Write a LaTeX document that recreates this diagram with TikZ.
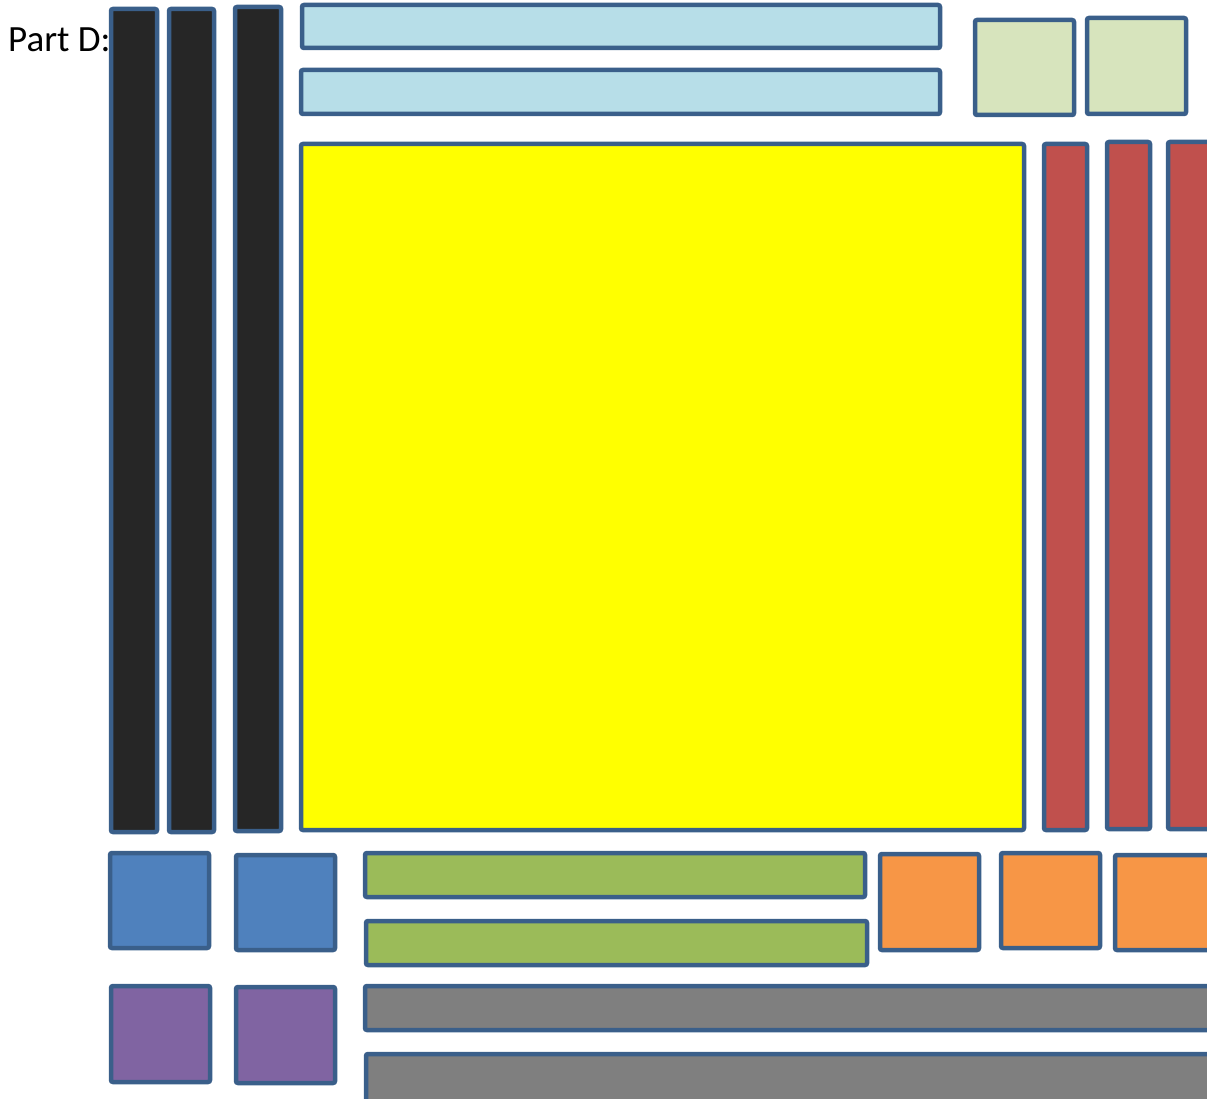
\documentclass[tikz,border=0pt]{standalone}
\usepackage{fontspec}
\setmainfont{Carlito}
\usepackage{xcolor}
\usepackage{tikz}
\usetikzlibrary{positioning,calc}

\definecolor{edgeblue}{RGB}{58,95,138}
\definecolor{tileblack}{RGB}{38,38,38}
\definecolor{tilesky}{RGB}{183,222,232}
\definecolor{tilesage}{RGB}{215,228,189}
\definecolor{tileyellow}{RGB}{255,255,0}
\definecolor{tilered}{RGB}{192,80,77}
\definecolor{tileblue}{RGB}{79,129,189}
\definecolor{tilegreen}{RGB}{155,187,89}
\definecolor{tileorange}{RGB}{247,150,70}
\definecolor{tilepurple}{RGB}{128,100,162}
\definecolor{tilegray}{RGB}{127,127,127}

\tikzset{
  tile/.style={draw=edgeblue, line width=4.5pt, rounded corners=2pt},
}

\begin{document}
\begin{tikzpicture}[x=1pt,y=-1pt]
    \useasboundingbox (0,0) rectangle (1207,1099);
    \clip (0,0) rectangle (1207,1099);

    \node[anchor=base west, inner sep=0pt, font=\fontsize{37}{40}\selectfont] (label) at (8,52) {Part D:};

    % long dark strips on the left
    \draw[tile, fill=tileblack] (111,9) rectangle (157,832);
    \draw[tile, fill=tileblack] (169,9) rectangle (214,832);
    \draw[tile, fill=tileblack] (235,7) rectangle (281,831);

    % top strips and small squares
    \draw[tile, fill=tilesky] (302,5) rectangle (940,48);
    \draw[tile, fill=tilesky] (301,70) rectangle (940,114);
    \draw[tile, fill=tilesage] (975,20) rectangle (1074,115);
    \draw[tile, fill=tilesage] (1087,18) rectangle (1186,114);

    % big square
    \draw[tile, fill=tileyellow] (301,144) rectangle (1024,830);

    % tall strips on the right
    \draw[tile, fill=tilered] (1044,144) rectangle (1087,830);
    \draw[tile, fill=tilered] (1107,142) rectangle (1150,829);
    \draw[tile, fill=tilered] (1168,142) rectangle (1220,829);

    % bottom rows
    \draw[tile, fill=tileblue] (110,853) rectangle (209,948);
    \draw[tile, fill=tileblue] (236,855) rectangle (335,950);
    \draw[tile, fill=tilegreen] (365,853) rectangle (865,897);
    \draw[tile, fill=tilegreen] (366,921) rectangle (867,965);
    \draw[tile, fill=tileorange] (880,854) rectangle (979,950);
    \draw[tile, fill=tileorange] (1001,853) rectangle (1100,948);
    \draw[tile, fill=tileorange] (1115,855) rectangle (1220,950);

    \draw[tile, fill=tilepurple] (111,986) rectangle (210,1082);
    \draw[tile, fill=tilepurple] (236,987) rectangle (335,1083);
    \draw[tile, fill=tilegray] (365,986) rectangle (1220,1030);
    \draw[tile, fill=tilegray] (366,1054) rectangle (1220,1110);
\end{tikzpicture}
\end{document}
